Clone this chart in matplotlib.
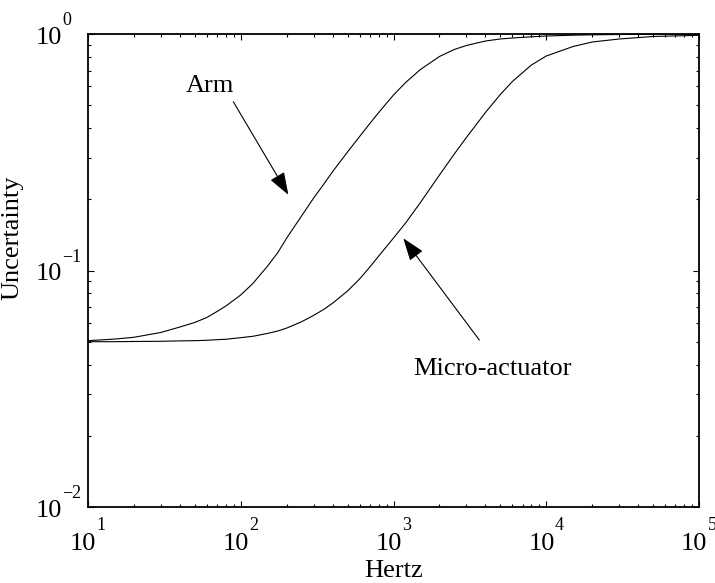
import matplotlib
matplotlib.use("Agg")
import matplotlib.pyplot as plt

plt.rcParams["font.family"] = ["Liberation Serif", "DejaVu Serif"]

# Uncertainty weight magnitudes (frequency in Hz)
freq_hz = [10, 15, 20, 30, 40, 50, 60, 70, 80, 100, 120, 150, 175, 200, 250,
           300, 350, 400, 500, 600, 700, 800, 1000, 1200, 1500, 2000, 2500,
           3000, 4000, 5000, 6000, 8000, 10000, 15000, 20000, 30000, 50000,
           100000]

arm_unc = [0.0505, 0.0513, 0.0522, 0.0547, 0.0577, 0.0603, 0.0633, 0.0671,
           0.0708, 0.0788, 0.0881, 0.1045, 0.1192, 0.1372, 0.1700, 0.2025,
           0.2321, 0.2622, 0.3170, 0.3686, 0.4183, 0.4657, 0.5521, 0.6235,
           0.7077, 0.8034, 0.8601, 0.8941, 0.9342, 0.9525, 0.9618, 0.9731,
           0.9807, 0.9884, 0.9922, 0.9951, 0.9981, 0.9990]

micro_unc = [0.0500, 0.0500, 0.0501, 0.0502, 0.0504, 0.0505, 0.0507, 0.0510,
             0.0512, 0.0520, 0.0527, 0.0542, 0.0555, 0.0571, 0.0607, 0.0646,
             0.0685, 0.0728, 0.0819, 0.0921, 0.1034, 0.1151, 0.1372, 0.1588,
             0.1938, 0.2534, 0.3109, 0.3650, 0.4657, 0.5547, 0.6296, 0.7396,
             0.8071, 0.8855, 0.9251, 0.9525, 0.9760, 0.9874]

x_decades = [1, 2, 3, 4, 5]
y_decades = [-2, -1, 0]

W, H = 715, 583
fig = plt.figure(figsize=(W / 100, H / 100), dpi=100)
ax = fig.add_axes([88 / W, 1 - 507 / H, 611 / W, 473 / H])
ax.set_xscale("log")
ax.set_yscale("log")
ax.set_xlim(10, 1e5)
ax.set_ylim(1e-2, 1)

ax.plot(freq_hz, arm_unc, color="k", lw=0.8)
ax.plot(freq_hz, micro_unc, color="k", lw=0.8)

ax.tick_params(which="both", direction="in", top=True, right=True,
               labelbottom=False, labelleft=False, width=0.8)
ax.tick_params(which="major", length=4.2)
ax.tick_params(which="minor", length=2.5)
for sp in ax.spines.values():
    sp.set_linewidth(1.3)

base_fs = 19
exp_fs = 13


def exp_text(k):
    return str(k).replace("-", "\u2212")


# x tick labels: "10" with a raised exponent, centred on the tick
for k in x_decades:
    xv = 10.0 ** k
    ax.annotate("10", xy=(xv, 0), xycoords=("data", "axes fraction"),
                xytext=(8.5, -43), textcoords="offset pixels",
                ha="right", va="baseline", fontsize=base_fs,
                annotation_clip=False)
    ax.annotate(exp_text(k), xy=(xv, 0), xycoords=("data", "axes fraction"),
                xytext=(8.5, -23), textcoords="offset pixels",
                ha="left", va="baseline", fontsize=exp_fs,
                annotation_clip=False)

# y tick labels
for k in y_decades:
    yv = 10.0 ** k
    ax.annotate("10", xy=(0, yv), xycoords=("axes fraction", "data"),
                xytext=(-26, -10), textcoords="offset pixels",
                ha="right", va="baseline", fontsize=base_fs,
                annotation_clip=False)
    ax.annotate(exp_text(k), xy=(0, yv), xycoords=("axes fraction", "data"),
                xytext=(-26, 9), textcoords="offset pixels",
                ha="left", va="baseline", fontsize=exp_fs,
                annotation_clip=False)

fig.text((88 + 305.5) / W, 1 - 577 / H, "Hertz", ha="center", va="baseline",
         fontsize=base_fs)
fig.text(12 / W, 1 - 238 / H, "Uncertainty", ha="center", va="center",
         rotation=90, fontsize=base_fs)

arrow = dict(arrowstyle="-|>,head_length=1.4,head_width=0.5", color="k",
             lw=0.8, shrinkA=0, shrinkB=0, mutation_scale=10)
ax.annotate("", xy=(205, 0.209), xytext=(89.4, 0.517), arrowprops=arrow)
ax.annotate("", xy=(1159, 0.1368), xytext=(3648, 0.0508), arrowprops=arrow)
ax.text(63.0, 0.5686, "Arm", ha="center", va="baseline", fontsize=base_fs)
ax.text(4446, 0.03614, "Micro-actuator", ha="center", va="baseline",
        fontsize=base_fs)

fig.savefig("out.png", dpi=100)
